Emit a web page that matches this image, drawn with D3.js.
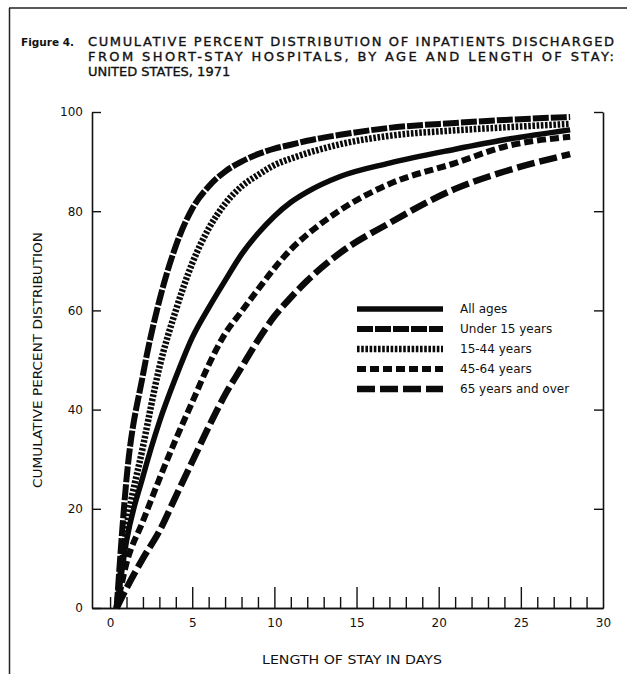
<!DOCTYPE html>
<html>
<head>
<meta charset="utf-8">
<script src="https://cdn.jsdelivr.net/npm/d3@7"></script>
<style>
  html, body { margin: 0; padding: 0; background: #fff; }
  svg { display: block; }
  text { font-family: "DejaVu Sans", "Liberation Sans", Arial, sans-serif; fill: #111; }
</style>
</head>
<body>
<svg id="chart" width="627" height="674"></svg>
<script>
// ---- data ----
const days        = [0.4, 1, 2, 3, 4, 5, 6, 7, 8, 9, 10, 11, 12, 14, 17, 21, 24, 28];
const allAges     = [0, 13.5, 26.5, 37.5, 46.5, 54.5, 60.5, 66, 71.3, 75.5, 79, 81.8, 83.9, 87, 89.7, 92.5, 94.4, 96.4];
const under15     = [0, 26, 47, 62, 73, 80.5, 85, 88, 90, 91.5, 92.6, 93.4, 94.2, 95.4, 96.8, 97.8, 98.4, 99];
const age15to44   = [0, 16, 32.5, 48.5, 60, 69.5, 76.5, 81.5, 85, 87.3, 89.3, 90.6, 91.7, 93.5, 95.2, 96.3, 96.9, 97.6];
const age45to64   = [0, 9, 17.5, 26, 34, 41.5, 49, 55.3, 59.8, 64.2, 68.5, 72.3, 75.3, 80.2, 85.5, 89.7, 93, 95];
const age65over   = [0, 4, 10, 15.5, 22.5, 29.5, 36.5, 43, 48.5, 54, 58.8, 62.6, 66, 71.6, 77.6, 84.5, 88, 91.5];
const seriesNames = ["All ages", "Under 15 years", "15-44 years", "45-64 years", "65 years and over"];
const yTicks      = [0, 20, 40, 60, 80, 100];
const xLabelTicks = [0, 5, 10, 15, 20, 25, 30];
const xMinorTicks = d3.range(0, 30);
const titleLines  = ["CUMULATIVE PERCENT DISTRIBUTION OF INPATIENTS DISCHARGED",
                     "FROM SHORT-STAY HOSPITALS, BY AGE AND LENGTH OF STAY:",
                     "UNITED STATES, 1971"];

const seriesValues = [allAges, under15, age15to44, age45to64, age65over];
const series = seriesNames.map((name, i) => ({
  name, points: days.map((d, j) => ({ day: d, pct: seriesValues[i][j] }))
}));

// ---- layout ----
const svg = d3.select("#chart");
const xMin = -1.1;
const x = d3.scaleLinear().domain([xMin, 30]).range([92, 603]);
const y = d3.scaleLinear().domain([0, 100]).range([608, 112]);

// outer border
svg.append("line").attr("x1", 9).attr("x2", 627).attr("y1", 8).attr("y2", 8)
  .attr("stroke", "#222").attr("stroke-width", 1.5);
svg.append("line").attr("x1", 9.5).attr("x2", 9.5).attr("y1", 8).attr("y2", 674)
  .attr("stroke", "#222").attr("stroke-width", 1.5);

// title
svg.append("text").attr("x", 21).attr("y", 46).attr("font-size", 10.5)
  .attr("font-weight", "bold").text("Figure 4.");
titleLines.forEach((t, i) => {
  const tx = svg.append("text").attr("x", 88).attr("y", 46 + i * 15)
    .attr("font-size", 13).attr("stroke", "#111").attr("stroke-width", 0.35).text(t);
  if (i < 2) tx.attr("textLength", 526).attr("lengthAdjust", "spacing");
});

// axes
const axisStyle = g => {
  g.selectAll("path.domain").attr("stroke", "#111").attr("stroke-width", 1.6);
  g.selectAll(".tick line").attr("stroke", "#111").attr("stroke-width", 1.4);
  g.selectAll("text").attr("font-size", 12).attr("fill", "#111")
    .style("font-family", "'DejaVu Sans', 'Liberation Sans', Arial, sans-serif");
};

svg.append("g").attr("transform", `translate(${x(xMin)},0)`)
  .call(d3.axisLeft(y).tickValues(yTicks).tickSize(-9).tickSizeOuter(0).tickPadding(9))
  .call(axisStyle);

svg.append("g").attr("transform", `translate(${x(30)},0)`)
  .call(d3.axisRight(y).tickValues(yTicks.slice(1)).tickSize(-9).tickSizeOuter(0).tickFormat(""))
  .call(axisStyle);

svg.append("g").attr("transform", `translate(0,${y(0)})`)
  .call(d3.axisBottom(x).tickValues(xMinorTicks.filter(d => d % 5 !== 0 || d === 0))
    .tickSize(-11).tickSizeOuter(0).tickFormat(""))
  .call(axisStyle);

svg.append("g").attr("transform", `translate(0,${y(0)})`)
  .call(d3.axisBottom(x).tickValues(xLabelTicks).tickSize(-21).tickSizeOuter(0).tickPadding(10))
  .call(axisStyle)
  .call(g => g.selectAll(".tick").filter(d => d === 0 || d === 30).select("line").remove());

// axis titles
svg.append("text").attr("transform", `translate(38,${y(50)}) rotate(-90)`)
  .attr("text-anchor", "middle").attr("dominant-baseline", "middle")
  .attr("font-size", 12.5).attr("textLength", 256).attr("lengthAdjust", "spacingAndGlyphs")
  .text("CUMULATIVE PERCENT DISTRIBUTION");
svg.append("text").attr("x", 352).attr("y", 664).attr("text-anchor", "middle")
  .attr("font-size", 12.5).attr("textLength", 180).attr("lengthAdjust", "spacingAndGlyphs")
  .text("LENGTH OF STAY IN DAYS");

// line styles
const styles = {
  "All ages":          { width: 5.5, dash: null },
  "Under 15 years":    { width: 6,   dash: "16,2" },
  "15-44 years":       { width: 6.5, dash: "2.6,1.6" },
  "45-64 years":       { width: 6,   dash: "9,4" },
  "65 years and over": { width: 6.5, dash: "18,5" }
};

const line = d3.line().x(d => x(d.day)).y(d => y(d.pct)).curve(d3.curveMonotoneX);

const drawOrder = ["65 years and over", "45-64 years", "All ages", "15-44 years", "Under 15 years"];
drawOrder.forEach(nm => {
  const s = series.find(t => t.name === nm);
  const st = styles[nm];
  svg.append("path").datum(s.points).attr("d", line)
    .attr("fill", "none").attr("stroke", "#0a0a0a")
    .attr("stroke-width", st.width)
    .attr("stroke-dasharray", st.dash)
    .attr("stroke-linejoin", "round");
});

// legend
const legend = svg.append("g");
seriesNames.forEach((nm, i) => {
  const ly = 309 + i * 20;
  const st = styles[nm];
  legend.append("line").attr("x1", 357).attr("x2", 443).attr("y1", ly).attr("y2", ly)
    .attr("stroke", "#0a0a0a").attr("stroke-width", st.width)
    .attr("stroke-dasharray", st.dash);
  legend.append("text").attr("x", 460).attr("y", ly).attr("dominant-baseline", "middle")
    .attr("font-size", 12).text(nm);
});
</script>
</body>
</html>
